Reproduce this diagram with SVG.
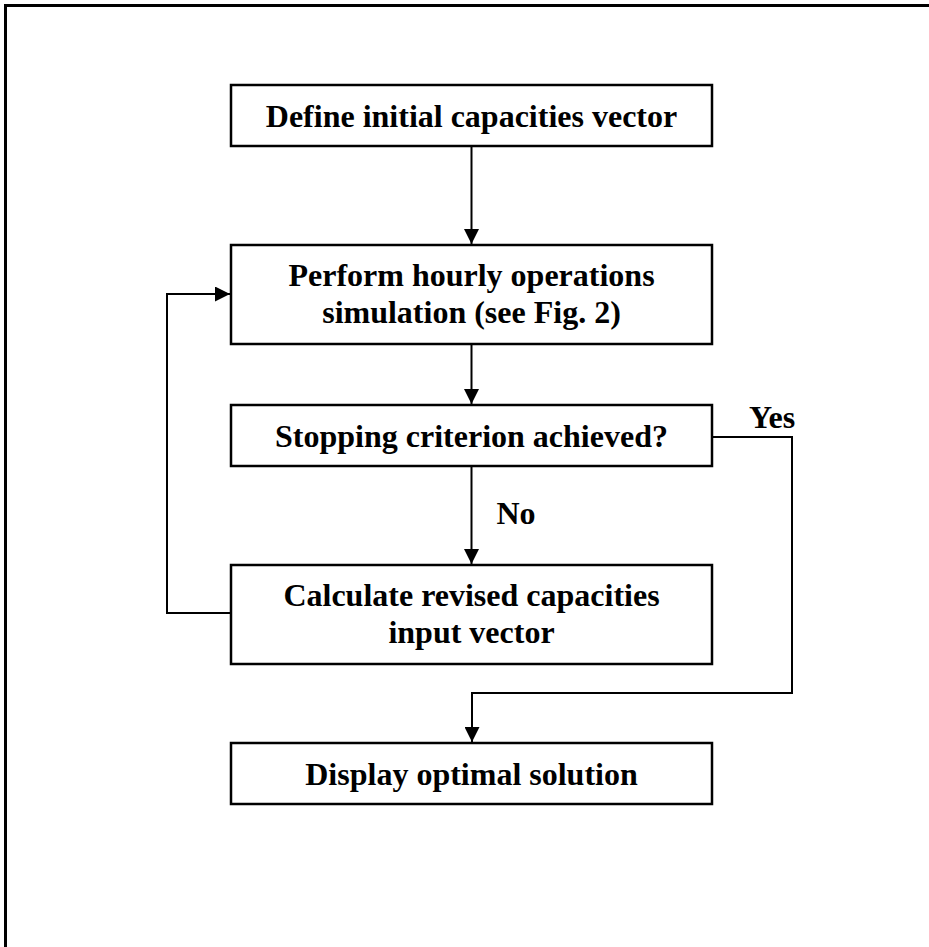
<svg xmlns="http://www.w3.org/2000/svg" width="929" height="947" viewBox="0 0 929 947">
  <style>
    .box { fill: #ffffff; stroke: #000000; stroke-width: 2.5; }
    .lbl { font-family: "Liberation Serif", "Times New Roman", serif; font-weight: bold; font-size: 32px; fill: #000000; text-anchor: middle; }
    .edge { fill: none; stroke: #000000; stroke-width: 2; marker-end: url(#arr); }
    .line { fill: none; stroke: #000000; stroke-width: 2; }
  </style>
  <defs>
    <marker id="arr" viewBox="0 0 15 15" refX="15" refY="7.5" markerWidth="15" markerHeight="15" markerUnits="userSpaceOnUse" orient="auto">
      <path d="M0,0 L15,7.5 L0,15 Z" fill="#000000"/>
    </marker>
  </defs>
  <rect x="0" y="0" width="929" height="947" fill="#ffffff"/>
  <rect id="frame" x="5.5" y="5.5" width="1000" height="1000" fill="none" stroke="#000000" stroke-width="3"/>

  <g id="connectors">
    <path class="edge" d="M471.5,147 L471.5,244"/>
    <path class="edge" d="M471.5,345 L471.5,404"/>
    <path class="edge" d="M471.5,467 L471.5,564"/>
    <path class="edge" d="M713,437 L792,437 L792,693 L472,693 L472,742"/>
    <path class="edge" d="M230,613 L167,613 L167,294 L230,294"/>
    <text class="lbl" x="516" y="524">No</text>
    <text class="lbl" x="772" y="428">Yes</text>
  </g>

  <g id="n1">
    <rect class="box" x="231" y="85" width="481" height="61"/>
    <text class="lbl" x="471.5" y="127">Define initial capacities vector</text>
  </g>
  <g id="n2">
    <rect class="box" x="231" y="245" width="481" height="99"/>
    <text class="lbl" x="471.5" y="286">Perform hourly operations</text>
    <text class="lbl" x="471.5" y="323">simulation (see Fig. 2)</text>
  </g>
  <g id="n3">
    <rect class="box" x="231" y="405" width="481" height="61"/>
    <text class="lbl" x="471.5" y="447">Stopping criterion achieved?</text>
  </g>
  <g id="n4">
    <rect class="box" x="231" y="565" width="481" height="99"/>
    <text class="lbl" x="471.5" y="606">Calculate revised capacities</text>
    <text class="lbl" x="471.5" y="643">input vector</text>
  </g>
  <g id="n5">
    <rect class="box" x="231" y="743" width="481" height="61"/>
    <text class="lbl" x="471.5" y="785">Display optimal solution</text>
  </g>
</svg>
